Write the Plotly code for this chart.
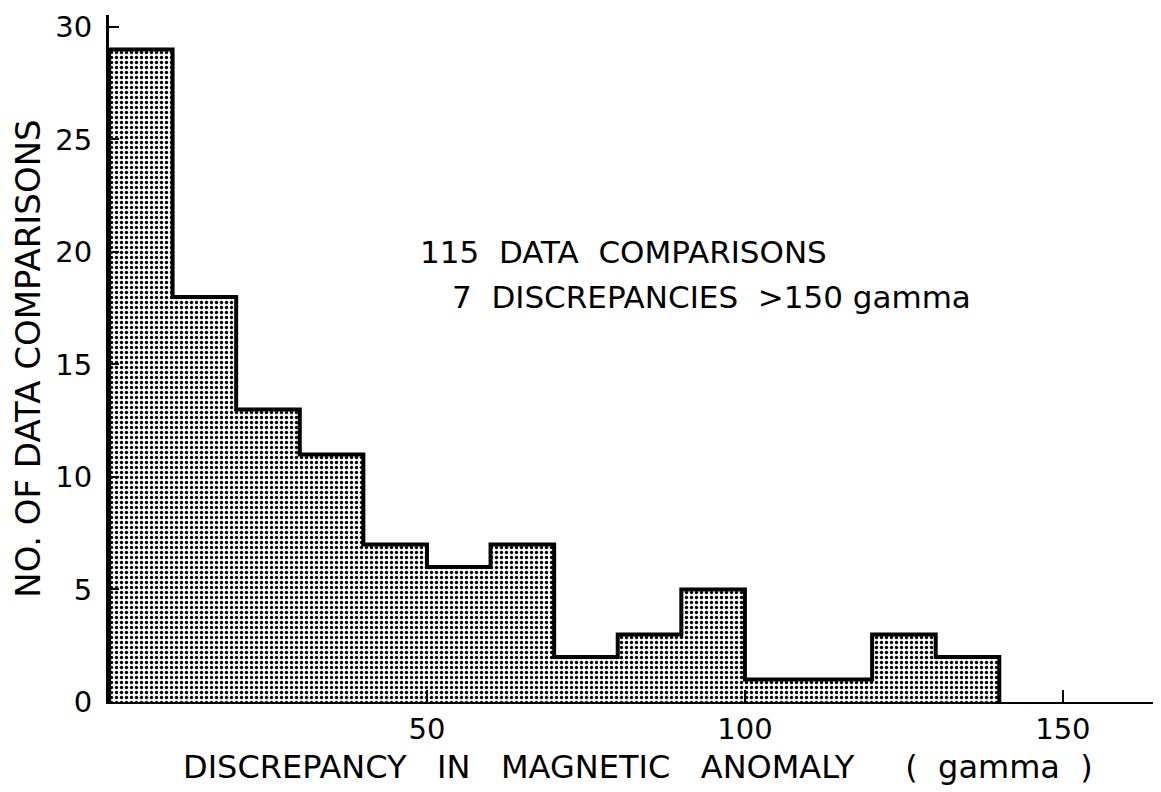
import plotly.graph_objects as go

# histogram of discrepancies, 10 gamma bins
bin_left = [0, 10, 20, 30, 40, 50, 60, 70, 80, 90, 100, 110, 120, 130]
counts = [29, 18, 13, 11, 7, 6, 7, 2, 3, 5, 1, 1, 3, 2]
bin_width = 10
y_ticks = [0, 5, 10, 15, 20, 25, 30]
x_ticks = [50, 100, 150]

FONT = 'DejaVu Sans'

centers = [b + bin_width / 2 for b in bin_left]
last_right = bin_left[-1] + bin_width
step_x = [0] + bin_left + [last_right, last_right]
step_y = [0] + counts + [counts[-1], 0]

fig = go.Figure()
fig.add_trace(go.Bar(
    x=centers,
    y=counts,
    width=bin_width,
    marker=dict(
        color='white',
        line=dict(width=0),
        pattern=dict(shape='.', fgcolor='black', bgcolor='white',
                     size=5, solidity=0.35, fillmode='replace'),
    ),
    hoverinfo='skip',
))
fig.add_trace(go.Scatter(
    x=step_x,
    y=step_y,
    mode='lines',
    line=dict(color='black', width=4, shape='hv'),
    hoverinfo='skip',
))

fig.add_annotation(x=48.6, y=20, xref='x', yref='y', xanchor='left', yanchor='middle',
                   text='115  DATA  COMPARISONS', showarrow=False,
                   font=dict(family=FONT, size=31, color='black'))
fig.add_annotation(x=53.6, y=18, xref='x', yref='y', xanchor='left', yanchor='middle',
                   text='7  DISCREPANCIES  >150 gamma', showarrow=False,
                   font=dict(family=FONT, size=31, color='black'))
# x-axis title, placed by hand so the descenders stay inside the page
fig.add_annotation(x=83.2, y=-0.1243, xref='x', yref='paper', xanchor='center', yanchor='bottom',
                   text='DISCREPANCY   IN   MAGNETIC   ANOMALY     (  gamma  )', showarrow=False,
                   font=dict(family=FONT, size=32, color='black'), borderpad=0)

# page body has an 8px margin, so the figure is a bit smaller than the window
fig.update_layout(
    width=1153,
    height=784,
    margin=dict(l=101, r=4, t=2, b=90),
    paper_bgcolor='white',
    plot_bgcolor='white',
    showlegend=False,
    bargap=0,
    font=dict(family=FONT, color='black'),
    xaxis=dict(
        range=[0, 164.8],
        showline=True, linecolor='black', linewidth=2,
        showgrid=False, zeroline=False,
        tickvals=x_ticks, ticks='inside', ticklen=12, tickwidth=2, tickcolor='black',
        tickfont=dict(family=FONT, size=29, color='black'),
        ticklabelstandoff=0,
    ),
    yaxis=dict(
        range=[0, 30.53],
        showline=True, linecolor='black', linewidth=3,
        showgrid=False, zeroline=False,
        tickvals=y_ticks, ticks='inside', ticklen=10, tickwidth=2, tickcolor='black',
        tickfont=dict(family=FONT, size=29, color='black'),
        ticklabelstandoff=8,
        ticklabeloverflow='allow',
        title=dict(text='NO. OF DATA COMPARISONS',
                   font=dict(family=FONT, size=34, color='black'), standoff=10),
    ),
)

fig.write_html('out.html')
